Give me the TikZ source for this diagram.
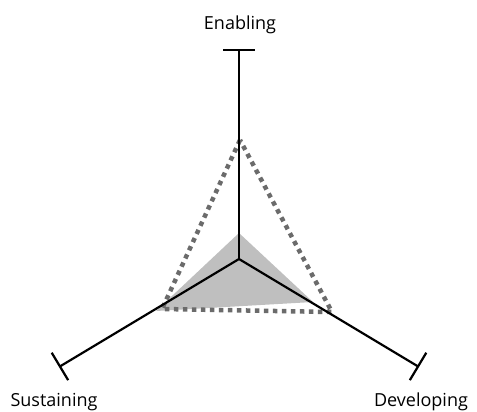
\documentclass[tikz,border=0pt]{standalone}
\usepackage{fontspec}
\setmainfont{Open Sans}
\usetikzlibrary{arrows.meta}
\definecolor{areagray}{HTML}{BFBFBF}
\definecolor{dotgray}{HTML}{6B6B6B}
\tikzset{
  axis/.style={line width=2.2pt, black, -{Bar[width=32pt,line width=2.2pt]}},
  axislabel/.style={font=\fontsize{18}{21}\selectfont, inner sep=0pt},
  area/.style={fill=areagray, draw=none},
  target/.style={draw=dotgray, line width=4.5pt, dash pattern=on 4.5pt off 4.5pt}
}
\begin{document}
\begin{tikzpicture}[x=1pt,y=-1pt]
  \useasboundingbox (0,0) rectangle (477,412);
  % centre and axis ends
  \coordinate (c) at (239,259);
  \coordinate (e) at (239,49);
  \coordinate (s) at (59,367);
  \coordinate (d) at (419,367);
  % current profile
  \coordinate (a1) at (239,233);
  \coordinate (a2) at (156,311);
  \coordinate (a3) at (313,302);
  % target profile
  \coordinate (t1) at (240,140);
  \coordinate (t2) at (162,309);
  \coordinate (t3) at (332,312);
  \fill[area] (a1) -- (a2) -- (a3) -- cycle;
  \draw[target] (t1) -- (t2) -- (t3) -- cycle;
  \draw[axis] (c) -- (e);
  \draw[axis] (c) -- (s);
  \draw[axis] (c) -- (d);
  % axis labels
  \node[axislabel, anchor=base] (le) at (240,29.5) {Enabling};
  \node[axislabel, anchor=base] (ls) at (54,406.5) {Sustaining};
  \node[axislabel, anchor=base] (ld) at (421,406.5) {Developing};
\end{tikzpicture}
\end{document}
